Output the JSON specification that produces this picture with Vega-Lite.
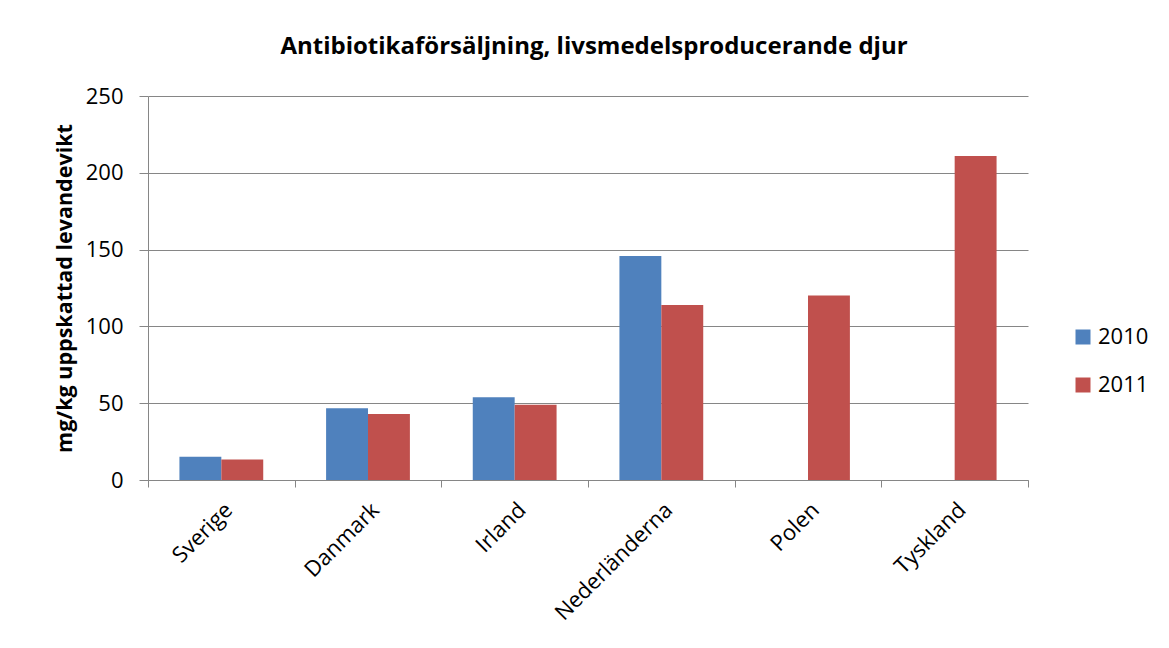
{
  "$schema": "https://vega.github.io/schema/vega-lite/v6.json",
  "autosize": "none",
  "width": 880,
  "height": 384,
  "padding": {"top": 96, "left": 148, "right": 141, "bottom": 168},
  "background": "white",
  "title": {
    "text": "Antibiotikaförsäljning, livsmedelsproducerande djur",
    "font": "Open Sans",
    "fontSize": 24,
    "fontWeight": "bold",
    "color": "black",
    "anchor": "middle",
    "frame": "group",
    "dx": 6,
    "baseline": "alphabetic",
    "offset": 7
  },
  "data": {
    "values": [
      {"land": "Sverige", "år": "2010", "värde": 15.2},
      {"land": "Sverige", "år": "2011", "värde": 13.4},
      {"land": "Danmark", "år": "2010", "värde": 46.7},
      {"land": "Danmark", "år": "2011", "värde": 43.0},
      {"land": "Irland", "år": "2010", "värde": 53.8},
      {"land": "Irland", "år": "2011", "värde": 49.0},
      {"land": "Nederländerna", "år": "2010", "värde": 145.8},
      {"land": "Nederländerna", "år": "2011", "värde": 114.0},
      {"land": "Polen", "år": "2011", "värde": 120.1},
      {"land": "Tyskland", "år": "2011", "värde": 211.0}
    ]
  },
  "mark": {"type": "bar"},
  "encoding": {
    "x": {
      "field": "land",
      "type": "nominal",
      "sort": ["Sverige", "Danmark", "Irland", "Nederländerna", "Polen", "Tyskland"],
      "scale": {"paddingInner": 0, "paddingOuter": 0},
      "axis": {
        "title": null,
        "labelAngle": -45,
        "labelFont": "Open Sans",
        "labelFontSize": 22,
        "labelColor": "black",
        "tickBand": "extent",
        "tickSize": 7,
        "tickColor": "#868686",
        "domainColor": "#868686",
        "labelPadding": 12
      }
    },
    "xOffset": {
      "field": "år",
      "type": "nominal",
      "scale": {"domain": ["2010", "2011"], "paddingInner": 0, "paddingOuter": 0.75}
    },
    "y": {
      "field": "värde",
      "type": "quantitative",
      "scale": {"domain": [0, 250]},
      "axis": {
        "title": "mg/kg uppskattad levandevikt",
        "titleFont": "Open Sans",
        "titleFontSize": 21.5,
        "titleFontWeight": "bold",
        "titleColor": "black",
        "titlePadding": 9,
        "values": [0, 50, 100, 150, 200, 250],
        "labelFont": "Open Sans",
        "labelFontSize": 22,
        "labelColor": "black",
        "labelPadding": 16,
        "tickSize": 9,
        "tickColor": "#868686",
        "domainColor": "#868686",
        "gridColor": "#868686",
        "gridOpacity": 1
      }
    },
    "color": {
      "field": "år",
      "type": "nominal",
      "scale": {"domain": ["2010", "2011"], "range": ["#4F81BD", "#C0504D"]},
      "legend": {
        "title": null,
        "orient": "none",
        "legendX": 924,
        "legendY": 230,
        "symbolType": "square",
        "symbolSize": 225,
        "symbolStrokeWidth": 0,
        "labelFont": "Open Sans",
        "labelFontSize": 22,
        "labelColor": "black",
        "rowPadding": 26,
        "labelOffset": 4
      }
    }
  },
  "config": {
    "view": {"stroke": null},
    "axis": {"domainWidth": 1, "tickWidth": 1}
  }
}
